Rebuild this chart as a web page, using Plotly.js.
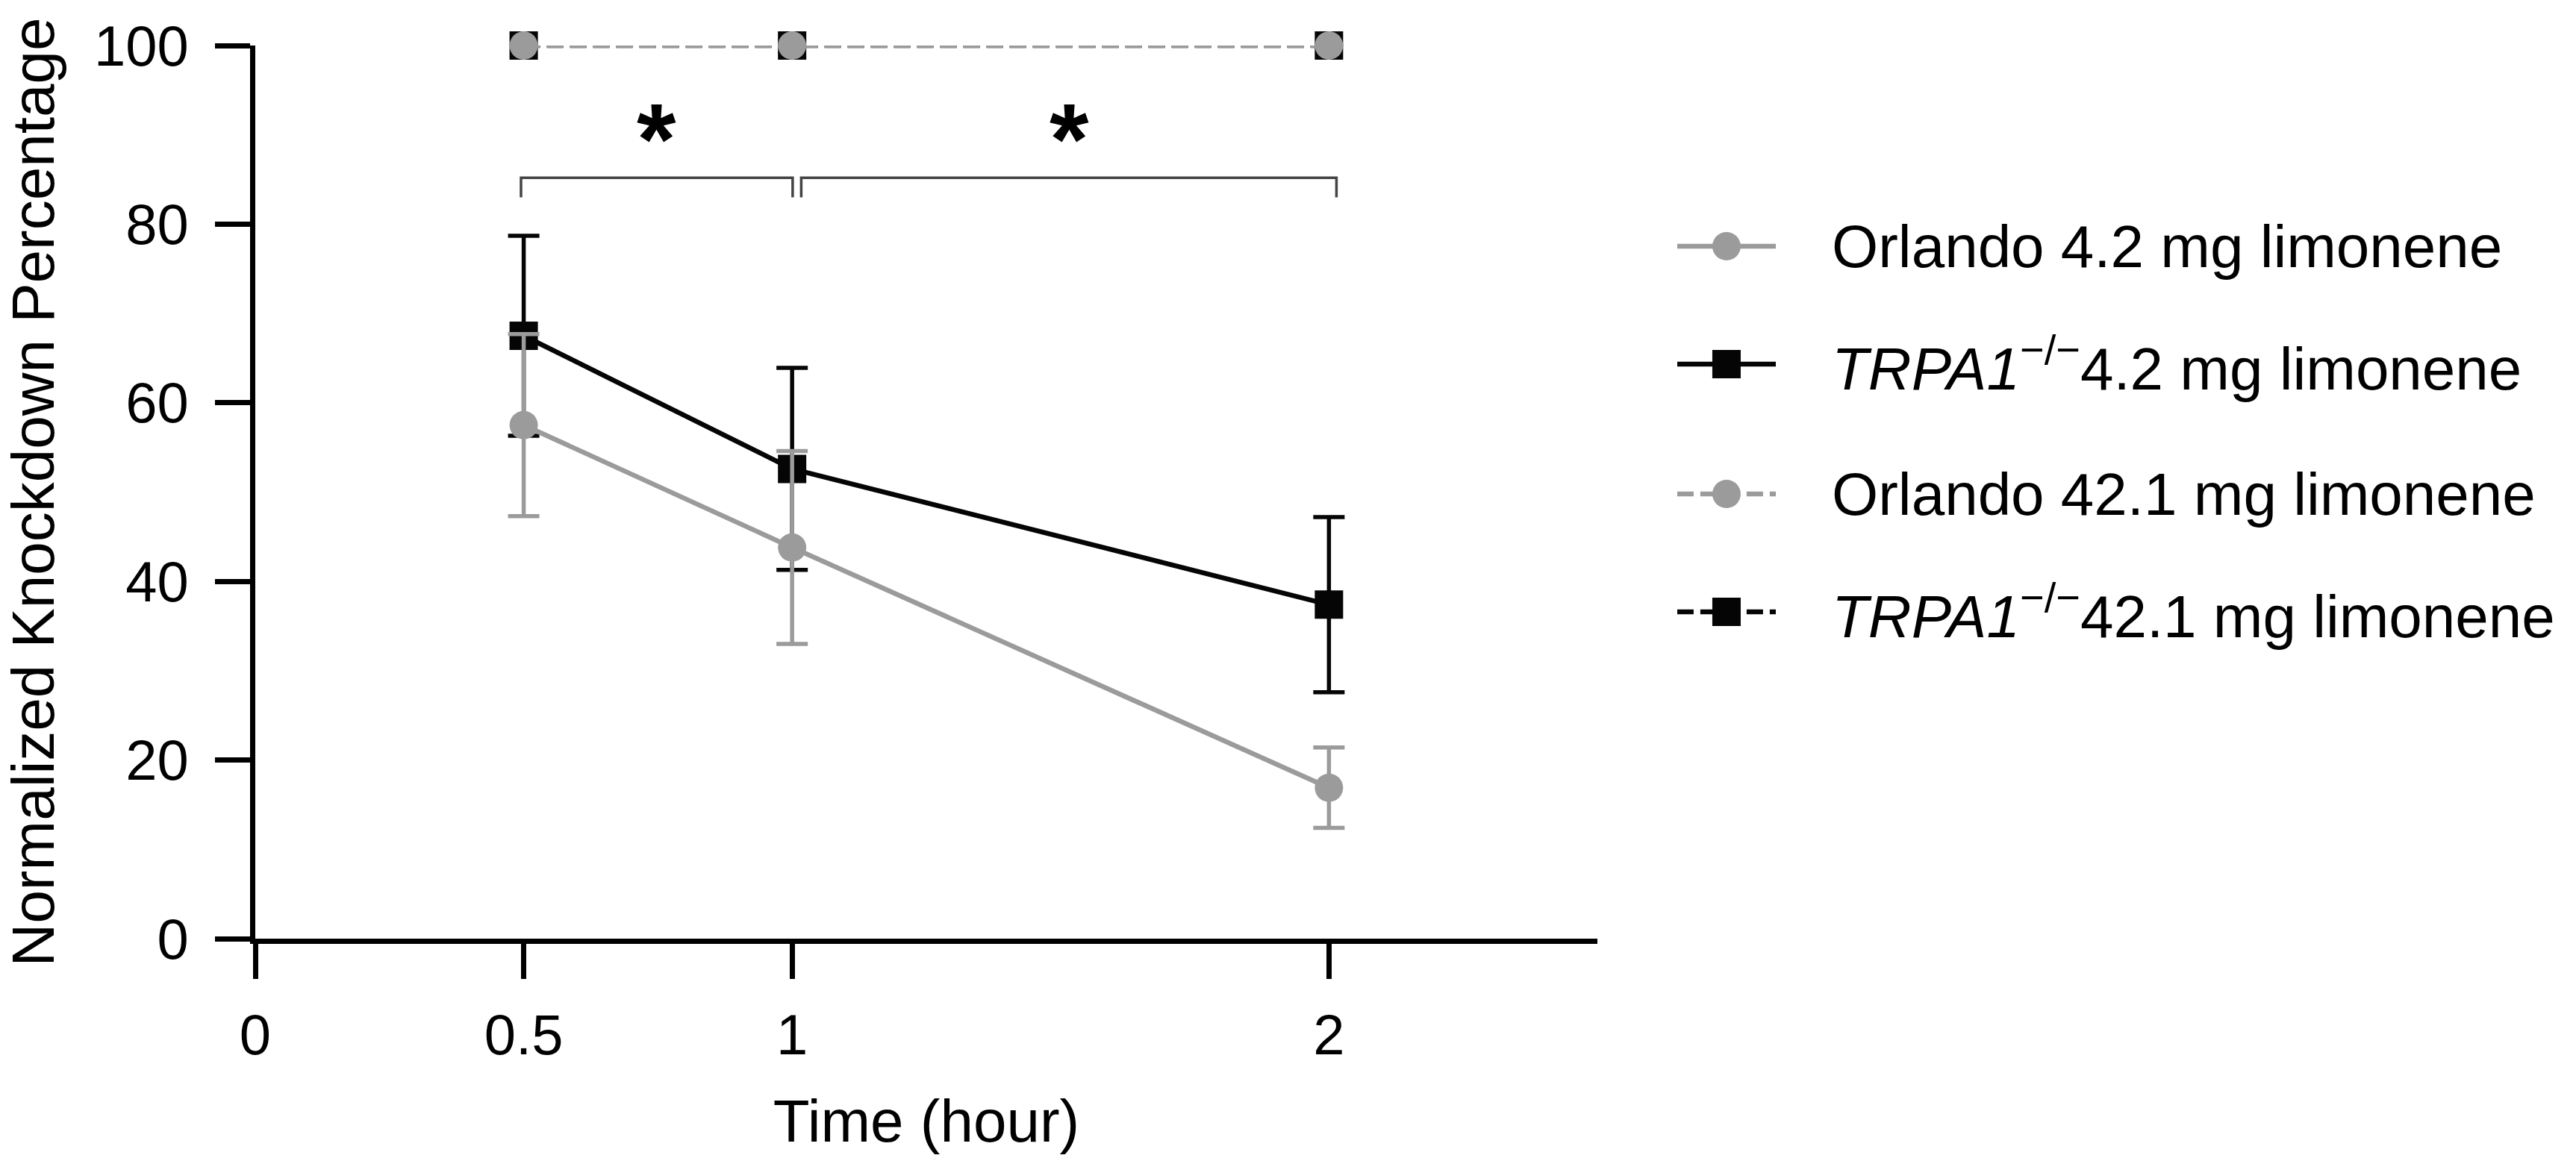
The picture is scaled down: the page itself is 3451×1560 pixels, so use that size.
<!DOCTYPE html>
<html>
<head>
<meta charset="utf-8">
<script src="https://cdn.plot.ly/plotly-3.0.1.min.js"></script>
<style>html,body{margin:0;padding:0;background:#fff;}#chart{width:3451px;height:1560px;}</style>
</head>
<body>
<div id="chart"></div>
<script>
// ---- data ----
const timeHours = [0.5, 1, 2];
const orlando42 = [57.5, 43.8, 16.9];
const orlando42Err = [10.2, 10.8, 4.5];
const trpa42 = [67.5, 52.6, 37.4];
const trpa42Err = [11.2, 11.3, 9.8];
const orlando421 = [100, 100, 100];
const trpa421 = [100, 100, 100];
const xTickVals = [0, 0.5, 1, 2];
const xTickText = ['0', '0.5', '1', '2'];
const yTickVals = [0, 20, 40, 60, 80, 100];
const seriesNames = [
  'Orlando 4.2 mg limonene',
  '<i>TRPA1</i><sup>−/−</sup>4.2 mg limonene',
  'Orlando 42.1 mg limonene',
  '<i>TRPA1</i><sup>−/−</sup>42.1 mg limonene'
];
// significance comparisons: [from, to] in hours, and label
const sigPairs = [[0.495, 1.001], [1.017, 2.014]];
const sigLabels = ['*', '*'];
const sigLabelX = [0.748, 1.516];

// ---- styles ----
const GRAY = '#9b9b9b';
const BLACK = '#050505';
const FONT = 'Liberation Sans, Arial, Helvetica, sans-serif';
const DASH = '22px,9px';
const MS = 38;
const LW = 6.5;

function series(x, y, err, color, symbol, dash, name) {
  const t = {
    x: x, y: y, type: 'scatter', mode: 'lines+markers', name: name,
    line: {color: color, width: LW, dash: dash},
    marker: {color: color, size: MS, symbol: symbol, line: {width: 0}},
    cliponaxis: false, showlegend: false, hoverinfo: 'skip'
  };
  if (err) t.error_y = {type: 'data', array: err, visible: true, color: color, thickness: 5.5, width: 21};
  return t;
}

const traces = [
  series(timeHours, trpa421, null, BLACK, 'square', DASH, seriesNames[3]),
  series(timeHours, orlando421, null, GRAY, 'circle', DASH, seriesNames[2]),
  series(timeHours, trpa42, trpa42Err, BLACK, 'square', 'solid', seriesNames[1]),
  series(timeHours, orlando42, orlando42Err, GRAY, 'circle', 'solid', seriesNames[0])
];

// ---- manual legend (own hidden axes; y2 in pixel units) ----
const legendRowsPx = [330, 488, 662, 820];
const legendStyles = [
  [GRAY, 'circle', 'solid'], [BLACK, 'square', 'solid'],
  [GRAY, 'circle', DASH], [BLACK, 'square', DASH]
];
const legendAnnotations = [];
legendRowsPx.forEach(function (ry, i) {
  const s = legendStyles[i];
  traces.push({
    x: [0, 1], y: [ry, ry], xaxis: 'x2', yaxis: 'y2', type: 'scatter',
    mode: 'lines', line: {color: s[0], width: LW, dash: s[2]},
    cliponaxis: false, showlegend: false, hoverinfo: 'skip'
  });
  traces.push({
    x: [0.5], y: [ry], xaxis: 'x2', yaxis: 'y2', type: 'scatter',
    mode: 'markers', marker: {color: s[0], size: MS, symbol: s[1], line: {width: 0}},
    cliponaxis: false, showlegend: false, hoverinfo: 'skip'
  });
  legendAnnotations.push({
    xref: 'paper', yref: 'y2', x: 0.6787, y: ry, xanchor: 'left', yanchor: 'middle',
    text: seriesNames[i], showarrow: false, font: {family: FONT, size: 80, color: '#000'}
  });
});

// ---- significance marks ----
const shapes = sigPairs.map(function (p) {
  return {
    type: 'path', xref: 'x', yref: 'y',
    path: 'M ' + p[0] + ',83 L ' + p[0] + ',85.2 L ' + p[1] + ',85.2 L ' + p[1] + ',83',
    line: {color: '#444', width: 3.5}
  };
});
const sigAnnotations = sigLabels.map(function (lab, i) {
  return {
    xref: 'x', yref: 'y', x: sigLabelX[i], y: 90.7, yshift: -14, text: '<b>' + lab + '</b>',
    showarrow: false, xanchor: 'center', yanchor: 'middle',
    font: {family: FONT, size: 135, color: '#000'}
  };
});

const layout = {
  width: 3451, height: 1560,
  margin: {l: 342, r: 0, t: 61, b: 302, pad: 0},
  paper_bgcolor: '#fff', plot_bgcolor: 'rgba(0,0,0,0)',
  font: {family: FONT, color: '#000'},
  showlegend: false,
  xaxis: {
    domain: [0, 0.5783], range: [0, 2.5], tickmode: 'array', tickvals: xTickVals, ticktext: xTickText,
    showline: true, linecolor: '#000', linewidth: 7, ticks: 'outside', ticklen: 47, tickwidth: 7,
    tickcolor: '#000', showgrid: false, zeroline: false, tickfont: {family: FONT, size: 76, color: '#000'},
    ticklabelstandoff: 10,
    title: {text: 'Time (hour)', font: {family: FONT, size: 80, color: '#000'}, standoff: 48}
  },
  yaxis: {
    range: [0, 100], tickmode: 'array', tickvals: yTickVals,
    showline: true, linecolor: '#000', linewidth: 7, ticks: 'outside', ticklen: 47, tickwidth: 7,
    tickcolor: '#000', showgrid: false, zeroline: false, tickfont: {family: FONT, size: 76, color: '#000'},
    ticklabelstandoff: 20,
    title: {text: 'Normalized Knockdown Percentage', font: {family: FONT, size: 80, color: '#000'}, standoff: 36}
  },
  xaxis2: {domain: [0.6127, 0.6552], range: [0, 1], visible: false, anchor: 'y2', fixedrange: true},
  yaxis2: {domain: [0, 1], range: [1258, 61], visible: false, anchor: 'x2', fixedrange: true},
  shapes: shapes,
  annotations: sigAnnotations.concat(legendAnnotations)
};

Plotly.newPlot('chart', traces, layout, {staticPlot: true, displayModeBar: false});
</script>
</body>
</html>
